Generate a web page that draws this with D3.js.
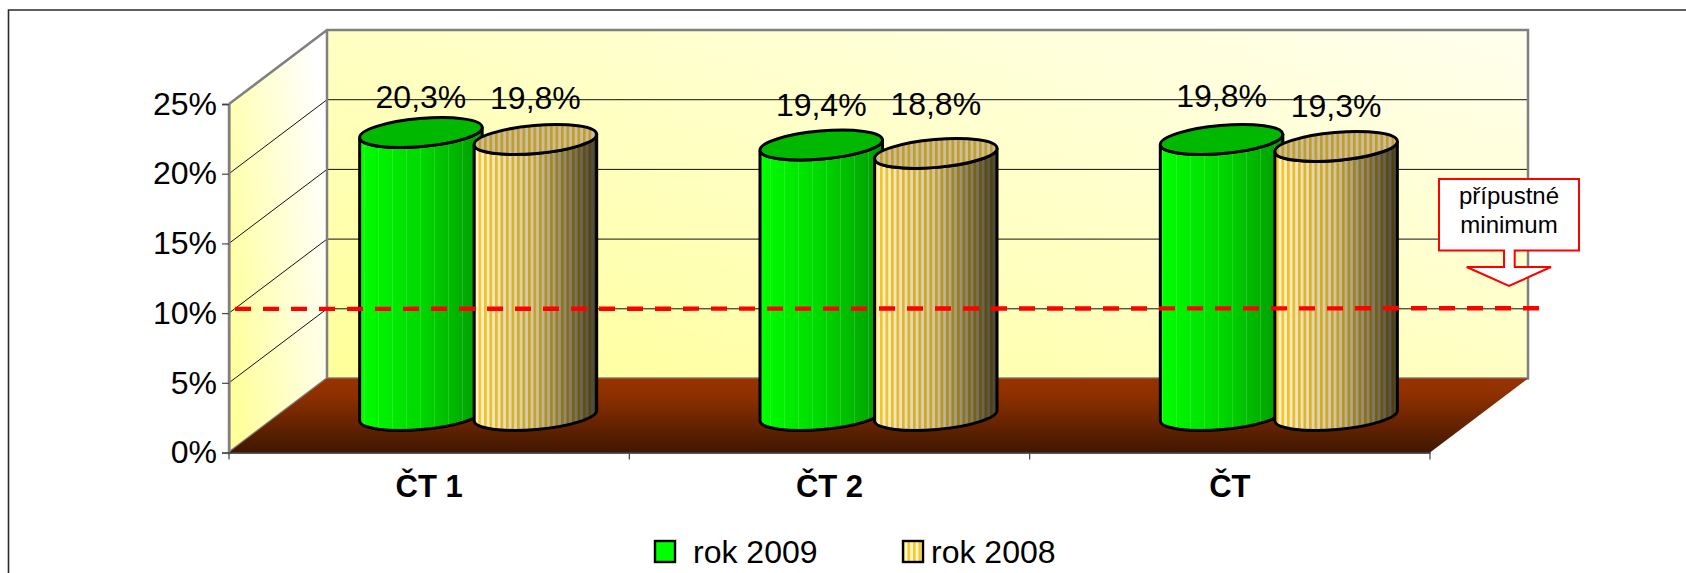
<!DOCTYPE html>
<html lang="en">
<head>
	<meta charset="utf-8">
	<title>Přípustné minimum</title>
	<script src="https://cdn.jsdelivr.net/npm/d3@7"></script>
	<style>
		body { margin: 0; background: #fff; }
		svg { display: block; }
		text { font-family: "Liberation Sans", Arial, sans-serif; fill: #000; }
		.domain { stroke: #808080; stroke-width: 2px; }
	</style>
</head>
<body>
	<div id="viz"></div>
	<script>
	const categories = ["ČT 1", "ČT 2", "ČT"];
	const seriesNames = ["rok 2009", "rok 2008"];
	const rok2009 = [20.3, 19.4, 19.8];
	const rok2008 = [19.8, 18.8, 19.3];
	const yTicks = [0, 5, 10, 15, 20, 25];
	const minimumLine = [10.3, 10.35];
	const calloutLines = ["přípustné", "minimum"];

	// the labels were dragged by hand in the original, so each has its own lift
	const labelLift = [[25, 30], [29, 38], [32, 29]];

	const WIDTH = 1686, HEIGHT = 573;
	const depthX = 98, depthY = 74;
	const left = 229, right = 1430, floorY = 452.5, topY = 104;
	const barOffset = 57.25, rx = 61.5, ry = 14, tilt = 5;

	const svg = d3.select("#viz").append("svg")
		.attr("width", WIDTH)
		.attr("height", HEIGHT);
	const defs = svg.append("defs");

	const x = d3.scaleBand().domain(categories).range([left, right]);
	const y = d3.scaleLinear().domain([0, 25]).range([floorY, topY]);
	const fmt = d => String(d).replace(".", ",") + "%";

	function gradient(id, x1, y1, x2, y2, stops) {
		const g = defs.append("linearGradient").attr("id", id)
			.attr("x1", x1).attr("y1", y1).attr("x2", x2).attr("y2", y2);
		stops.forEach(s => g.append("stop")
			.attr("offset", s[0])
			.attr("stop-color", s[1])
			.attr("stop-opacity", s[2] === undefined ? 1 : s[2]));
	}
	gradient("wall", 0, 1, 1, 0, [[0, "#ffff99"], [1, "#ffffee"]]);
	gradient("sideWall", 0, 0.8, 1, 0.3, [[0, "#ffff99"], [1, "#ffffff"]]);
	gradient("floor", 0, 0, 0, 1, [[0, "#993300"], [0.25, "#8c2f00"], [1, "#3f1700"]]);
	gradient("greenBody", 0, 0, 1, 0, [[0, "#00ff00"], [0.5, "#00d800"], [1, "#009a00"]]);
	gradient("goldShade", 0, 0, 1, 0, [[0, "#000", 0], [0.5, "#000", 0.2], [0.8, "#000", 0.5], [1, "#000", 0.72]]);

	const goldStripes = defs.append("pattern").attr("id", "goldStripes")
		.attr("patternUnits", "userSpaceOnUse").attr("width", 5.5).attr("height", 10);
	goldStripes.append("rect").attr("width", 5.5).attr("height", 10).attr("fill", "#fff6d8");
	goldStripes.append("rect").attr("width", 2.6).attr("height", 10).attr("fill", "#fbc81c");

	const greenStripes = defs.append("pattern").attr("id", "greenStripes")
		.attr("patternUnits", "userSpaceOnUse").attr("width", 14).attr("height", 10);
	greenStripes.append("rect").attr("width", 1).attr("height", 10).attr("fill", "#ffffff").attr("opacity", 0.15);

	// frame, only the top and left edges are visible
	svg.append("path")
		.attr("d", `M8.5,${HEIGHT}V10H${WIDTH}`)
		.attr("fill", "none").attr("stroke", "#2a2a2a").attr("stroke-width", 1.6);

	// walls and floor
	const backTop = y(25) - depthY, backBottom = floorY - depthY;
	svg.append("path")
		.attr("d", `M${left + depthX},${backTop}H${right + depthX}V${backBottom}H${left + depthX}Z`)
		.attr("fill", "url(#wall)");
	svg.append("path")
		.attr("d", `M${left},${y(25)}L${left + depthX},${backTop}V${backBottom}L${left},${floorY}Z`)
		.attr("fill", "url(#sideWall)");

	// gridlines go under the wall edges, the 25% one is the top edge itself
	const grid = svg.append("g").attr("fill", "none").attr("stroke", "#111").attr("stroke-width", 1);
	grid.selectAll("path").data(yTicks.filter(d => d > 0 && d < 25)).enter().append("path")
		.attr("d", d => `M${left},${y(d)}L${left + depthX},${y(d) - depthY}H${right + depthX}`);

	svg.append("path")
		.attr("d", `M${left},${y(25)}L${left + depthX},${backTop}H${right + depthX}V${backBottom}H${left + depthX}V${backTop}M${left + depthX},${backBottom}L${left},${floorY}V${y(25)}`)
		.attr("fill", "none").attr("stroke", "#808080").attr("stroke-width", 2.5);

	svg.append("path")
		.attr("d", `M${left},${floorY}L${left + depthX},${backBottom}H${right + depthX}L${right},${floorY}Z`)
		.attr("fill", "url(#floor)");

	// axes
	svg.append("g")
		.attr("transform", `translate(${left},0)`)
		.call(d3.axisLeft(y).tickValues(yTicks).tickFormat(d => d + "%").tickSize(7).tickPadding(5))
		.call(g => g.selectAll("text").style("font-size", "32px").style("font-family", "Liberation Sans"))
		.call(g => g.selectAll("line").attr("stroke", "#444").attr("stroke-width", 1.2));

	svg.append("g")
		.attr("transform", `translate(0,${floorY})`)
		.call(d3.axisBottom(x).tickSize(0).tickPadding(22))
		.call(g => g.select(".domain").style("stroke", "#222").style("stroke-width", "1.5px"))
		.call(g => g.selectAll("text").style("font-size", "31px").style("font-weight", "bold").style("font-family", "Liberation Sans"));

	svg.append("g").attr("stroke", "#444").attr("stroke-width", 1.2)
		.selectAll("line").data(d3.range(categories.length + 1)).enter().append("line")
		.attr("x1", i => left + i * x.step())
		.attr("x2", i => left + i * x.step())
		.attr("y1", floorY)
		.attr("y2", floorY + 7);

	// cylinders
	const bars = [];
	categories.forEach((c, i) => {
		bars.push({ name: seriesNames[0], value: rok2009[i], cx: x(c) + x.step() / 2 + depthX / 2 - barOffset, gold: false, lift: labelLift[i][0] });
		bars.push({ name: seriesNames[1], value: rok2008[i], cx: x(c) + x.step() / 2 + depthX / 2 + barOffset, gold: true, lift: labelLift[i][1] });
	});

	const baseY = floorY - depthY / 2;
	const rad = tilt * Math.PI / 180;
	const ex = rx * Math.cos(rad), ey = rx * Math.sin(rad);

	function bodyPath(d) {
		const t = baseY - (floorY - y(d.value));
		return `M${d.cx - ex},${t + ey}L${d.cx - ex},${baseY + ey}`
			+ `A${rx},${ry} ${-tilt} 0 0 ${d.cx + ex},${baseY - ey}`
			+ `L${d.cx + ex},${t - ey}`
			+ `A${rx},${ry} ${-tilt} 0 1 ${d.cx - ex},${t + ey}Z`;
	}
	function capPath(d) {
		const t = baseY - (floorY - y(d.value));
		return `M${d.cx - ex},${t + ey}A${rx},${ry} ${-tilt} 1 1 ${d.cx + ex},${t - ey}`
			+ `A${rx},${ry} ${-tilt} 1 1 ${d.cx - ex},${t + ey}Z`;
	}

	const bar = svg.append("g").selectAll("g").data(bars).enter().append("g");
	bar.append("path").attr("d", bodyPath)
		.attr("fill", d => d.gold ? "url(#goldStripes)" : "url(#greenBody)");
	bar.append("path").attr("d", bodyPath)
		.attr("fill", d => d.gold ? "url(#goldShade)" : "url(#greenStripes)")
		.attr("stroke", "#000").attr("stroke-width", 3);
	bar.append("path").attr("d", capPath)
		.attr("fill", d => d.gold ? "url(#goldStripes)" : "#00b800");
	bar.append("path").attr("d", capPath)
		.attr("fill", d => d.gold ? "#3a3020" : "none")
		.attr("fill-opacity", 0.28);
	bar.append("path").attr("d", capPath)
		.attr("fill", "none").attr("stroke", "#000").attr("stroke-width", 3);

	svg.append("g").selectAll("text").data(bars).enter().append("text")
		.attr("x", d => d.cx)
		.attr("y", d => baseY - (floorY - y(d.value)) - d.lift)
		.attr("text-anchor", "middle")
		.style("font-size", "32px")
		.text(d => fmt(d.value));

	// dashed limit line
	const limit = d3.line().x((d, i) => i === 0 ? 235 : 1540).y(d => y(d));
	svg.append("path").datum(minimumLine)
		.attr("d", limit)
		.attr("fill", "none").attr("stroke", "#ff0000").attr("stroke-width", 4.4)
		.attr("stroke-dasharray", "16 12");

	// callout
	svg.append("path")
		.attr("d", "M1439,179H1579V250.5H1514.7V267H1551L1509,286L1466.7,267H1504V250.5H1439Z")
		.attr("fill", "#fff").attr("stroke", "#ff0000").attr("stroke-width", 2);
	svg.append("g").selectAll("text").data(calloutLines).enter().append("text")
		.attr("x", 1509)
		.attr("y", (d, i) => 204 + i * 29)
		.attr("text-anchor", "middle")
		.style("font-size", "24px")
		.text(d => d);

	// legend
	const legendSwatch = [655, 903], legendText = [693, 931];
	const legend = svg.append("g").selectAll("g").data(seriesNames).enter().append("g");
	legend.append("rect")
		.attr("x", (d, i) => legendSwatch[i]).attr("y", 541)
		.attr("width", 20).attr("height", 21)
		.attr("fill", (d, i) => i === 0 ? "#00ff00" : "url(#goldStripes)")
		.attr("stroke", "#000").attr("stroke-width", 2.4);
	legend.append("text")
		.attr("x", (d, i) => legendText[i]).attr("y", 563)
		.style("font-size", "32px")
		.text(d => d);
	</script>
</body>
</html>
